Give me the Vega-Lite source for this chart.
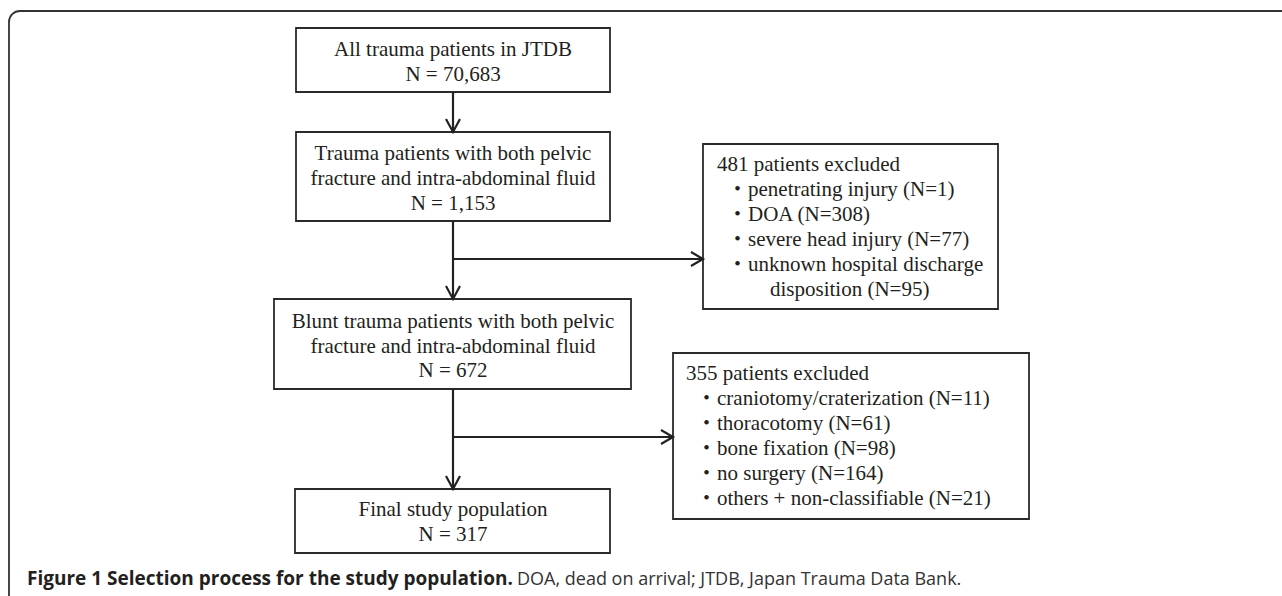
{
  "$schema": "https://vega.github.io/schema/vega-lite/v6.json",
  "width": 1282,
  "height": 596,
  "padding": 0,
  "autosize": {"type": "fit", "contains": "padding"},
  "background": "white",
  "config": {"view": {"stroke": null}},
  "datasets": {
    "frame": [{"x": 9, "x2": 1300, "y": 11, "y2": 620}],
    "boxes": [
      {"id": "all", "x": 296, "x2": 610, "y": 28, "y2": 92},
      {"id": "pelvic", "x": 296, "x2": 610, "y": 132, "y2": 221},
      {"id": "excl1", "x": 703, "x2": 998, "y": 144, "y2": 309},
      {"id": "blunt", "x": 274, "x2": 631, "y": 299, "y2": 389},
      {"id": "excl2", "x": 673, "x2": 1029, "y": 353, "y2": 519},
      {"id": "final", "x": 295, "x2": 610, "y": 489, "y2": 553}
    ],
    "links": [
      {"x": 453, "x2": 453, "y": 92, "y2": 132},
      {"x": 453, "x2": 453, "y": 221, "y2": 299},
      {"x": 453, "x2": 703, "y": 259, "y2": 259},
      {"x": 453, "x2": 453, "y": 389, "y2": 489},
      {"x": 453, "x2": 673, "y": 437, "y2": 437}
    ],
    "heads": [
      {"head": "a1", "k": 0, "x": 446, "y": 119},
      {"head": "a1", "k": 1, "x": 453, "y": 132},
      {"head": "a1", "k": 2, "x": 460, "y": 119},
      {"head": "a2", "k": 0, "x": 446, "y": 286},
      {"head": "a2", "k": 1, "x": 453, "y": 299},
      {"head": "a2", "k": 2, "x": 460, "y": 286},
      {"head": "a3", "k": 0, "x": 446, "y": 476},
      {"head": "a3", "k": 1, "x": 453, "y": 489},
      {"head": "a3", "k": 2, "x": 460, "y": 476},
      {"head": "a4", "k": 0, "x": 691, "y": 252},
      {"head": "a4", "k": 1, "x": 703, "y": 259},
      {"head": "a4", "k": 2, "x": 691, "y": 266},
      {"head": "a5", "k": 0, "x": 661, "y": 430},
      {"head": "a5", "k": 1, "x": 673, "y": 437},
      {"head": "a5", "k": 2, "x": 661, "y": 444}
    ],
    "labels": [
      {"x": 453, "y": 56, "text": "All trauma patients in JTDB"},
      {"x": 453, "y": 81, "text": "N = 70,683"},
      {"x": 453, "y": 160, "text": "Trauma patients with both pelvic"},
      {"x": 453, "y": 185, "text": "fracture and intra-abdominal fluid"},
      {"x": 453, "y": 210, "text": "N = 1,153"},
      {"x": 453, "y": 328, "text": "Blunt trauma patients with both pelvic"},
      {"x": 453, "y": 353, "text": "fracture and intra-abdominal fluid"},
      {"x": 453, "y": 377, "text": "N = 672"},
      {"x": 453, "y": 516, "text": "Final study population"},
      {"x": 453, "y": 541, "text": "N = 317"}
    ],
    "notes": [
      {"x": 717, "y": 171, "text": "481 patients excluded"},
      {"x": 727, "y": 196, "text": "・penetrating injury (N=1)"},
      {"x": 727, "y": 221, "text": "・DOA (N=308)"},
      {"x": 727, "y": 246, "text": "・severe head injury (N=77)"},
      {"x": 727, "y": 271, "text": "・unknown hospital discharge"},
      {"x": 770, "y": 296, "text": "disposition (N=95)"},
      {"x": 686, "y": 380, "text": "355 patients excluded"},
      {"x": 696, "y": 405, "text": "・craniotomy/craterization (N=11)"},
      {"x": 696, "y": 430, "text": "・thoracotomy (N=61)"},
      {"x": 696, "y": 455, "text": "・bone fixation (N=98)"},
      {"x": 696, "y": 480, "text": "・no surgery (N=164)"},
      {"x": 696, "y": 505, "text": "・others + non-classifiable (N=21)"}
    ],
    "caption": [
      {"x": 27, "y": 585, "part": "bold", "text": "Figure 1 Selection process for the study population."},
      {"x": 517, "y": 585, "part": "regular", "text": "DOA, dead on arrival; JTDB, Japan Trauma Data Bank."}
    ]
  },
  "encoding": {
    "x": {"field": "x", "type": "quantitative", "scale": {"domain": [0, 1282], "nice": false, "zero": false}, "axis": null},
    "y": {"field": "y", "type": "quantitative", "scale": {"domain": [0, 596], "nice": false, "zero": false, "reverse": true}, "axis": null}
  },
  "layer": [
    {
      "data": {"name": "frame"},
      "mark": {"type": "rect", "fill": null, "stroke": "#333333", "strokeWidth": 1.8, "cornerRadius": 11, "clip": true},
      "encoding": {"x2": {"field": "x2"}, "y2": {"field": "y2"}}
    },
    {
      "data": {"name": "boxes"},
      "mark": {"type": "rect", "fill": null, "stroke": "#2a2a2a", "strokeWidth": 1.8},
      "encoding": {"x2": {"field": "x2"}, "y2": {"field": "y2"}}
    },
    {
      "data": {"name": "links"},
      "mark": {"type": "rule", "stroke": "#222222", "strokeWidth": 2.2},
      "encoding": {"x2": {"field": "x2"}, "y2": {"field": "y2"}}
    },
    {
      "data": {"name": "heads"},
      "mark": {"type": "line", "stroke": "#222222", "strokeWidth": 2.2, "strokeJoin": "miter"},
      "encoding": {"detail": {"field": "head"}, "order": {"field": "k"}}
    },
    {
      "data": {"name": "labels"},
      "mark": {"type": "text", "align": "center", "baseline": "alphabetic", "font": "Liberation Serif", "fontSize": 21, "color": "#231f20"},
      "encoding": {"text": {"field": "text"}}
    },
    {
      "data": {"name": "notes"},
      "mark": {"type": "text", "align": "left", "baseline": "alphabetic", "font": "Liberation Serif, Noto Sans CJK JP", "fontSize": 21, "color": "#231f20"},
      "encoding": {"text": {"field": "text"}}
    },
    {
      "data": {"name": "caption"},
      "transform": [{"filter": "datum.part == 'bold'"}],
      "mark": {"type": "text", "align": "left", "baseline": "alphabetic", "font": "Open Sans", "fontSize": 19, "fontWeight": "bold", "color": "#231f20"},
      "encoding": {"text": {"field": "text"}}
    },
    {
      "data": {"name": "caption"},
      "transform": [{"filter": "datum.part == 'regular'"}],
      "mark": {"type": "text", "align": "left", "baseline": "alphabetic", "font": "Open Sans", "fontSize": 18, "color": "#333333"},
      "encoding": {"text": {"field": "text"}}
    }
  ]
}
